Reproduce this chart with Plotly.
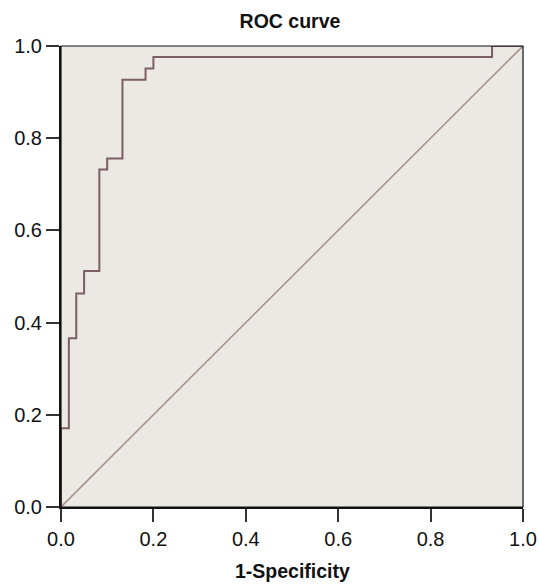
import plotly.graph_objects as go

# ROC step curve corner points (vertical-then-horizontal steps)
fpr = [0.0, 0.017, 0.033, 0.05, 0.083, 0.1, 0.133, 0.183, 0.2, 0.933, 1.0]
tpr = [0.0, 0.171, 0.366, 0.463, 0.512, 0.732, 0.756, 0.927, 0.951, 0.976, 1.0]
diag_x = [0.0, 1.0]
diag_y = [0.0, 1.0]
tick_vals = [0.0, 0.2, 0.4, 0.6, 0.8, 1.0]
tick_text = ["0.0", "0.2", "0.4", "0.6", "0.8", "1.0"]

FONT = "Liberation Sans, Arial, Helvetica, sans-serif"

fig = go.Figure()
fig.add_trace(go.Scatter(x=diag_x, y=diag_y, mode="lines",
                         line=dict(color="#a8938f", width=1.6),
                         hoverinfo="skip", showlegend=False))
fig.add_trace(go.Scatter(x=fpr, y=tpr, mode="lines", line_shape="vh",
                         line=dict(color="#7b5f64", width=2),
                         showlegend=False))

axis_common = dict(range=[0, 1], tickvals=tick_vals, ticktext=tick_text,
                   ticks="outside", ticklen=13, tickwidth=2, tickcolor="#333333",
                   showgrid=False, zeroline=False, showline=True,
                   linecolor="#111111", linewidth=2, mirror=False,
                   tickfont=dict(family=FONT, size=20, color="#111111"),
                   automargin=False, fixedrange=True)

fig.update_layout(
    width=539, height=584,
    margin=dict(l=61, r=16, t=46, b=77, autoexpand=False),
    paper_bgcolor="white", plot_bgcolor="#ece9e5",
    title=dict(text="<b>ROC curve</b>", x=290 / 539, xref="container", xanchor="center",
               y=1 - 21.5 / 584, yref="container", yanchor="middle",
               font=dict(family=FONT, size=19.5, color="#111111")),
    xaxis=dict(axis_common),
    yaxis=dict(axis_common),
    annotations=[dict(text="<b>1-Specificity</b>", x=0.5, xref="paper", y=0, yref="paper",
                      xanchor="center", yanchor="middle", yshift=-64, showarrow=False,
                      font=dict(family=FONT, size=19.5, color="#111111"))],
    shapes=[dict(type="rect", xref="paper", yref="paper", x0=0, y0=0, x1=1, y1=1,
                 line=dict(color="#111111", width=1.2), layer="above")],
)

fig.write_html("out.html")
